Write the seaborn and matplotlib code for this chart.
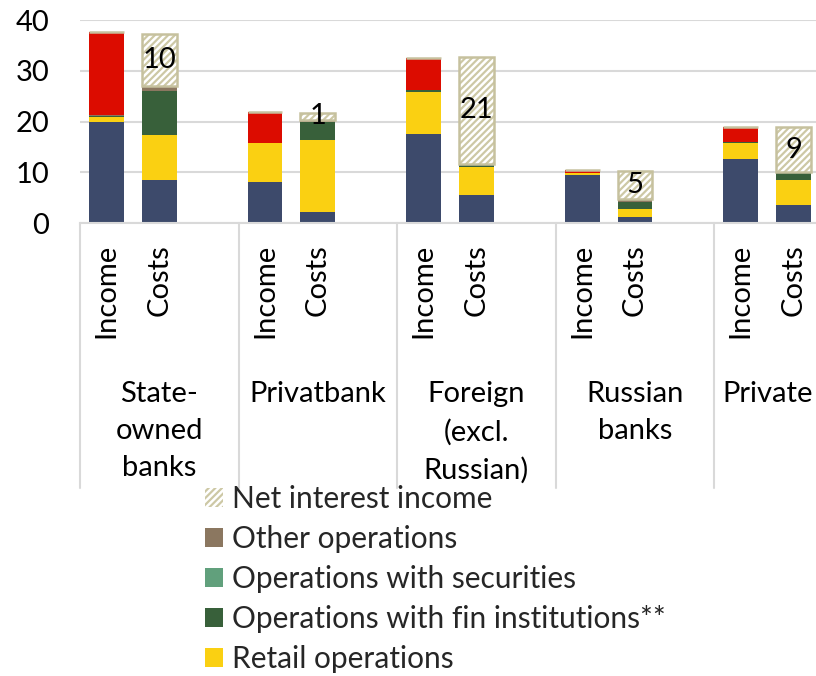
import matplotlib
matplotlib.use("Agg")
import matplotlib.pyplot as plt
import matplotlib.transforms as mtransforms
from matplotlib.patches import Patch
import seaborn as sns
import pandas as pd
import numpy as np

# ---------------- data ----------------
groups = ["State-\nowned\nbanks", "Privatbank", "Foreign\n(excl.\nRussian)", "Russian\nbanks", "Private"]
bar_kinds = ["Income", "Costs"]

# Income bars
inc_corporate = [20.0, 8.1, 17.6, 9.4, 12.6]
inc_retail = [0.9, 7.6, 8.3, 0.4, 3.2]
inc_fin = [0.2, 0.0, 0.4, 0.1, 0.2]
inc_securities = [0.0, 0.0, 0.0, 0.0, 0.0]
inc_other = [0.2, 0.0, 0.0, 0.0, 0.0]
inc_gov = [16.3, 6.1, 6.2, 0.5, 2.9]

# Costs bars
cost_corporate = [8.5, 2.2, 5.5, 1.2, 3.5]
cost_retail = [8.8, 14.2, 5.6, 1.6, 5.0]
cost_fin = [8.7, 3.5, 0.4, 1.3, 1.5]
cost_securities = [0.0, 0.0, 0.1, 0.0, 0.0]
cost_other = [0.9, 0.4, 0.1, 0.7, 0.0]
cost_nii = [10.4, 1.4, 21.0, 5.4, 8.9]

segments = ["Corporate operations", "Retail operations", "Operations with fin institutions**",
            "Operations with securities", "Other operations", "Government securities", "Net interest income"]
colors = {
    "Corporate operations": "#3d4a6b",
    "Retail operations": "#fad012",
    "Operations with fin institutions**": "#38603a",
    "Operations with securities": "#61a07c",
    "Other operations": "#8b7760",
    "Government securities": "#dc0c00",
    "Net interest income": "#cdc8a5",
}
legend_items = ["Net interest income", "Other operations", "Operations with securities",
                "Operations with fin institutions**", "Retail operations"]

# ---------------- table ----------------
income = {"Corporate operations": inc_corporate, "Retail operations": inc_retail,
          "Operations with fin institutions**": inc_fin, "Operations with securities": inc_securities,
          "Other operations": inc_other, "Government securities": inc_gov,
          "Net interest income": [0.0] * 5}
costs = {"Corporate operations": cost_corporate, "Retail operations": cost_retail,
         "Operations with fin institutions**": cost_fin, "Operations with securities": cost_securities,
         "Other operations": cost_other, "Government securities": [0.0] * 5,
         "Net interest income": cost_nii}

order = []
rows = []
for gi, g in enumerate(groups):
    for k, src in zip(bar_kinds, [income, costs]):
        slot = f"{gi}|{k}"
        order.append(slot)
        row = {"slot": slot, "group": gi, "kind": k}
        for s in segments:
            row[s] = src[s][gi]
        rows.append(row)
    if gi < len(groups) - 1:
        order.append(f"gap{gi}")
df = pd.DataFrame(rows)
df["pos"] = df["slot"].map({s: i for i, s in enumerate(order)})
df = df.sort_values("pos").reset_index(drop=True)

# ---------------- figure ----------------
sns.set_theme(style="white")
plt.rcParams["font.family"] = ["Lato", "DejaVu Sans"]
plt.rcParams["hatch.linewidth"] = 1.8
FS = 21

fig = plt.figure(figsize=(8.16, 6.76), dpi=100)
ax = fig.add_axes([80 / 816, 1 - 223 / 676, 740 / 816, 203 / 676])

bottom = np.zeros(len(df))
for s in segments:
    vals = df[s].to_numpy()
    if s == "Net interest income":
        sns.barplot(data=df, x="slot", y=s, order=order, bottom=bottom, width=0.66,
                    color=colors[s], edgecolor="white", hatch="/////", linewidth=0,
                    errorbar=None, ax=ax, saturation=1)
        sns.barplot(data=df, x="slot", y=s, order=order, bottom=bottom, width=0.66,
                    color="#c6c19e", fill=False, linewidth=1.8,
                    errorbar=None, ax=ax, saturation=1)
        for i, (v, b) in enumerate(zip(vals, bottom)):
            if v > 0:
                ax.text(df["pos"][i], b + v / 2, f"{v:.0f}", ha="center", va="center",
                        fontsize=FS, color="black")
    else:
        sns.barplot(data=df, x="slot", y=s, order=order, bottom=bottom, width=0.66,
                    color=colors[s], linewidth=0, errorbar=None, ax=ax, saturation=1)
    bottom = bottom + vals

ax.set_xlim(-0.5, len(order) - 0.5)
ax.set_ylim(0, 40)
ax.set_yticks([0, 10, 20, 30, 40])
ax.yaxis.grid(True, color="#d9d9d9", linewidth=1.5)
ax.set_axisbelow(True)
ax.tick_params(axis="y", length=0, pad=22, labelsize=FS, labelcolor="black")
for sp in ["left", "right", "top"]:
    ax.spines[sp].set_visible(False)
ax.spines["bottom"].set_color("#d9d9d9")
ax.spines["bottom"].set_linewidth(1.5)
ax.set_xlabel("")
ax.set_ylabel("")

ax.set_xticks(df["pos"].to_numpy())
ax.set_xticklabels(df["kind"].tolist(), rotation=90, fontsize=FS, color="black")
ax.tick_params(axis="x", length=0, pad=15)

trans = mtransforms.blended_transform_factory(ax.transData, ax.transAxes)
y_bottom = (223 - 488) / 203
seps = [-0.5, 2.5, 5.5, 8.5, 11.5]
for x in seps:
    ax.plot([x, x], [0, y_bottom], transform=trans, color="#d9d9d9", lw=1.5, clip_on=False)

group_centers = [1.0, 4.0, 7.0, 10.0, 12.5]
for g, c in zip(groups, group_centers):
    ax.text(c, (223 - 381) / 203, g, transform=trans, ha="center", va="top",
            fontsize=FS, linespacing=1.53, color="black")

handles = []
for s in legend_items:
    if s == "Net interest income":
        handles.append(Patch(facecolor=colors[s], edgecolor="white", hatch="/////", label=s, linewidth=0))
    else:
        handles.append(Patch(facecolor=colors[s], edgecolor="none", label=s))
fig.legend(handles=handles, loc="upper left", bbox_to_anchor=(205 / 816, 1 - 485 / 676),
           frameon=False, fontsize=21.5, handlelength=0.6, handleheight=0.6,
           handletextpad=0.3, labelspacing=0.40, borderpad=0, borderaxespad=0)

fig.savefig("out.png", dpi=100)
